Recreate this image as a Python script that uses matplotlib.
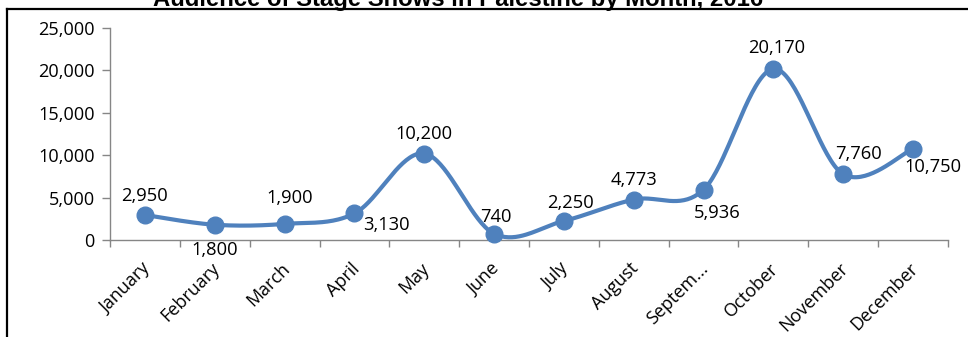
import numpy as np
import matplotlib
matplotlib.use("Agg")
import matplotlib.pyplot as plt
from matplotlib.lines import Line2D
import matplotlib.transforms as mtransforms

# Monthly audience figures
months = ["January", "February", "March", "April", "May", "June", "July",
          "August", "Septem...", "October", "November", "December"]
audience = [2950, 1800, 1900, 3130, 10200, 740, 2250, 4773, 5936, 20170, 7760, 10750]
y_ticks = [0, 5000, 10000, 15000, 20000, 25000]
title = "Audience of Stage Shows in Palestine by Month, 2016"

# label offsets in pixels (dx right, dy up)
label_offsets = [(0, 19), (0, -25), (5, 26), (32, -12), (0, 20), (2, 17),
                 (7, 18), (0, 20), (14, -23), (3, 21), (15, 20), (20, -18)]

BLUE = "#4F81BD"
GRAY = "#868686"
FONT = "Open Sans"


def smooth(xs, ys, n=40):
    """Catmull-Rom style Bezier smoothing through every point."""
    xs = np.asarray(xs, float)
    ys = np.asarray(ys, float)
    px = np.concatenate([[xs[0]], xs, [xs[-1]]])
    py = np.concatenate([[ys[0]], ys, [ys[-1]]])
    out_x, out_y = [], []
    t = np.linspace(0, 1, n)
    for i in range(len(xs) - 1):
        p0 = np.array([px[i + 1], py[i + 1]])
        p3 = np.array([px[i + 2], py[i + 2]])
        c1 = p0 + (p3 - np.array([px[i], py[i]])) / 6.0
        c2 = p3 - (np.array([px[i + 3], py[i + 3]]) - p0) / 6.0
        b = ((1 - t) ** 3)[:, None] * p0 + (3 * (1 - t) ** 2 * t)[:, None] * c1 \
            + (3 * (1 - t) * t ** 2)[:, None] * c2 + (t ** 3)[:, None] * p3
        out_x.extend(b[:, 0])
        out_y.extend(b[:, 1])
    return np.array(out_x), np.array(out_y)


fig = plt.figure(figsize=(9.68, 3.37), dpi=100)
W, H = 968, 337
ax = fig.add_axes([110 / W, 1 - 240 / H, (948 - 110) / W, (240 - 28) / H])

x = np.arange(len(months))
sx, sy = smooth(x, audience)
ax.plot(sx, sy, color=BLUE, lw=3.0, solid_capstyle="round", zorder=3, clip_on=False)
ax.plot(x, audience, "o", color=BLUE, ms=12, zorder=4, clip_on=False)

for xi, v, (dx, dy) in zip(x, audience, label_offsets):
    ax.annotate(f"{v:,}", (xi, v), xytext=(dx, dy), textcoords="offset pixels",
                ha="center", va="center", fontsize=13.2, family=FONT, color="black",
                zorder=5)

ax.set_xlim(-0.5, len(months) - 0.5)
ax.set_ylim(0, 25000)
ax.set_yticks(y_ticks)
ax.set_yticklabels([f"{v:,}" for v in y_ticks], family=FONT, fontsize=13.1)
ax.set_xticks(x)
ax.set_xticklabels(months, family=FONT, fontsize=13, rotation=45, ha="right",
                   va="top", rotation_mode="anchor")
ax.set_xticks(np.arange(-0.5, len(months)), minor=True)
ax.tick_params(axis="x", which="major", length=0, pad=14)
ax.tick_params(axis="x", which="minor", length=5, width=1, color=GRAY, direction="out")
ax.tick_params(axis="y", length=6, width=1, color=GRAY, direction="out", pad=5)

shift = mtransforms.ScaledTranslation(-4 / 100, 0, fig.dpi_scale_trans)
for lbl in ax.get_xticklabels():
    lbl.set_transform(lbl.get_transform() + shift)

for s in ("top", "right"):
    ax.spines[s].set_visible(False)
for s in ("left", "bottom"):
    ax.spines[s].set_color(GRAY)
    ax.spines[s].set_linewidth(1)

# outer frame (top and left edges)
fig.add_artist(Line2D([7 / W, 1], [1 - 8.5 / H, 1 - 8.5 / H], color="black", lw=1.6,
                      transform=fig.transFigure))
fig.add_artist(Line2D([7 / W, 7 / W], [0, 1 - 8.5 / H], color="black", lw=1.6,
                      transform=fig.transFigure))

fig.text(458 / W, 1 - 6 / H, title, ha="center", va="baseline",
         fontsize=17.2, fontweight="bold", family="Liberation Sans")

fig.savefig("out.png", dpi=100)
